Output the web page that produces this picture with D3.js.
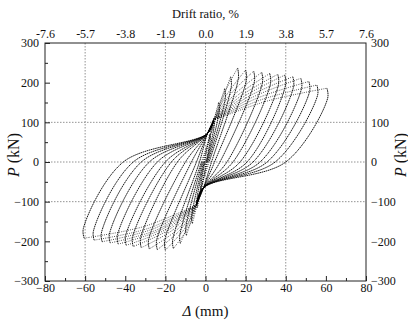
<!DOCTYPE html>
<html>
<head>
<meta charset="utf-8">
<script src="https://cdn.jsdelivr.net/npm/d3@7"></script>
<style>
  body { margin: 0; background: #fff; }
  svg text { font-family: "Liberation Serif", "Times New Roman", serif; fill: #111; }
</style>
</head>
<body>
<svg id="chart" width="408" height="321"></svg>
<script>
// cycle amplitudes (mm) and key points of each hysteresis loop
const amp     = [2, 4, 6.5, 9.5, 12.5, 16, 20, 24, 28, 32, 36, 39.5, 43.5, 47.5, 51.5, 55.5, 60.5];
const posPeak = [70, 110, 150, 185, 215, 237, 232, 229, 226, 223, 221, 219, 215, 211, 203, 194, 186];
const posDrop = [60, 95, 130, 162, 192, 212, 207, 204, 201, 198, 196, 194, 190, 186, 178, 169, 161];
const posZero = [0.3, 0.5, 0.8, 1.2, 1.8, 3, 4.5, 7.2, 10.7, 13.7, 17.2, 20.7, 23.7, 27.2, 30.7, 34.7, 40];
const posMid  = [40, 62, 85, 105, 125, 160, 165, 168, 168, 168, 168, 167, 166, 164, 161, 157, 153];
const negPeak = [-75, -115, -155, -185, -205, -218, -222, -221, -219, -216, -213, -210, -207, -204, -201, -197, -192];
const negDrop = [-65, -100, -138, -168, -188, -198, -200, -199, -197, -194, -191, -188, -185, -182, -179, -175, -168];
const negZero = [-0.3, -0.6, -1, -1.5, -2, -3, -4.5, -7, -10, -14, -17, -20, -24, -28, -32, -36, -41];
const negMid  = [-42, -65, -88, -108, -125, -160, -165, -168, -170, -170, -170, -170, -170, -170, -168, -166, -162];

// pinching points the large loops pass through (mm, kN)
const upperKnot = [[1, 72], [4, 105]];
const lowerKnot = [[-1, -65], [-4.5, -108]];

// axes
const xTicks = [-80, -60, -40, -20, 0, 20, 40, 60, 80];
const xMinor = [-70, -50, -30, -10, 10, 30, 50, 70];
const driftLabels = ["-7.6", "-5.7", "-3.8", "-1.9", "0.0", "1.9", "3.8", "5.7", "7.6"];
const yTicks = [-300, -200, -100, 0, 100, 200, 300];
const yMinor = [-250, -150, -50, 50, 150, 250];
const xGrid = [-60, -20, 0, 20, 40];
const yGrid = [-100, 0, 100];

const svg = d3.select("#chart");
const pL = 45, pR = 366, pT = 43, pB = 281;

const x = d3.scaleLinear().domain([-80, 80]).range([pL, pR]);
const y = d3.scaleLinear().domain([-300, 300]).range([pB, pT]);

// grid
svg.append("g").selectAll("line").data(xGrid).enter().append("line")
  .attr("x1", d => x(d)).attr("x2", d => x(d))
  .attr("y1", pT).attr("y2", pB)
  .attr("stroke", "#777").attr("stroke-width", 0.8).attr("stroke-dasharray", "1.5,1.5");
svg.append("g").selectAll("line").data(yGrid).enter().append("line")
  .attr("x1", pL).attr("x2", pR)
  .attr("y1", d => y(d)).attr("y2", d => y(d))
  .attr("stroke", "#777").attr("stroke-width", 0.8).attr("stroke-dasharray", "1.5,1.5");

// loops
const line = d3.line()
  .x(d => x(d[0]))
  .y(d => y(d[1]))
  .curve(d3.curveCatmullRom.alpha(0.5));

const unload = [], load = [];
amp.forEach((a, i) => {
  const big = a >= 16;
  const uPos = [[a, posPeak[i]], [a + 0.4, posDrop[i]], [posZero[i], 0]].concat(big ? lowerKnot : []);
  const lNeg = [uPos[uPos.length - 1], [-a / 2, negMid[i]], [-a, negPeak[i]]];
  const uNeg = [[-a, negPeak[i]], [-a - 0.4, negDrop[i]], [negZero[i], 0]].concat(big ? upperKnot : []);
  const lPos = [uNeg[uNeg.length - 1], [a / 2, posMid[i]], [a, posPeak[i]]];
  unload.push(uPos, uNeg);
  load.push(lNeg, lPos);
});

const loops = svg.append("g").attr("fill", "none").attr("stroke", "#000");
loops.selectAll(".load").data(load).enter().append("path")
  .attr("class", "load").attr("d", line)
  .attr("stroke-width", 0.8).attr("stroke-dasharray", "0.8,1.4");
loops.selectAll(".unload").data(unload).enter().append("path")
  .attr("class", "unload").attr("d", line)
  .attr("stroke-width", 0.9).attr("stroke-dasharray", "1.6,0.6");

// frame
svg.append("rect")
  .attr("x", pL).attr("y", pT)
  .attr("width", pR - pL).attr("height", pB - pT)
  .attr("fill", "none").attr("stroke", "#222").attr("stroke-width", 1);

function style(g) {
  g.select(".domain").remove();
  g.selectAll("line").attr("stroke", "#222");
  g.selectAll("text").attr("font-size", 12).attr("font-family", "Liberation Serif");
}

// bottom axis (ticks inside)
svg.append("g").attr("transform", `translate(0,${pB})`)
  .call(d3.axisBottom(x).tickValues(xTicks).tickSize(-5).tickPadding(2)).call(style);
svg.append("g").attr("transform", `translate(0,${pB})`)
  .call(d3.axisBottom(x).tickValues(xMinor).tickSize(-3).tickFormat("")).call(style);

// left axis
svg.append("g").attr("transform", `translate(${pL},0)`)
  .call(d3.axisLeft(y).tickValues(yTicks).tickSize(-5).tickPadding(6)).call(style);
svg.append("g").attr("transform", `translate(${pL},0)`)
  .call(d3.axisLeft(y).tickValues(yMinor).tickSize(-3).tickFormat("")).call(style);

// right axis labels
svg.append("g").attr("transform", `translate(${pR},0)`)
  .call(d3.axisRight(y).tickValues(yTicks).tickSize(0).tickPadding(5)).call(style);

// top axis: drift ratio
svg.append("g").attr("transform", `translate(0,${pT})`)
  .call(d3.axisTop(x).tickValues(xTicks).tickSize(0).tickPadding(5)
    .tickFormat((d, i) => driftLabels[i])).call(style);

// titles
svg.append("text").attr("x", x(0)).attr("y", 17.5)
  .attr("text-anchor", "middle").attr("font-size", 12.5).text("Drift ratio, %");

const xt = svg.append("text").attr("x", x(0)).attr("y", 316)
  .attr("text-anchor", "middle").attr("font-size", 15);
xt.append("tspan").attr("font-style", "italic").text("Δ");
xt.append("tspan").text(" (mm)");

function yTitle(cx) {
  const t = svg.append("text")
    .attr("transform", `translate(${cx},155) rotate(-90)`)
    .attr("text-anchor", "middle").attr("font-size", 16);
  t.append("tspan").attr("font-style", "italic").text("P");
  t.append("tspan").text(" (kN)");
}
yTitle(19);
yTitle(406);
</script>
</body>
</html>
